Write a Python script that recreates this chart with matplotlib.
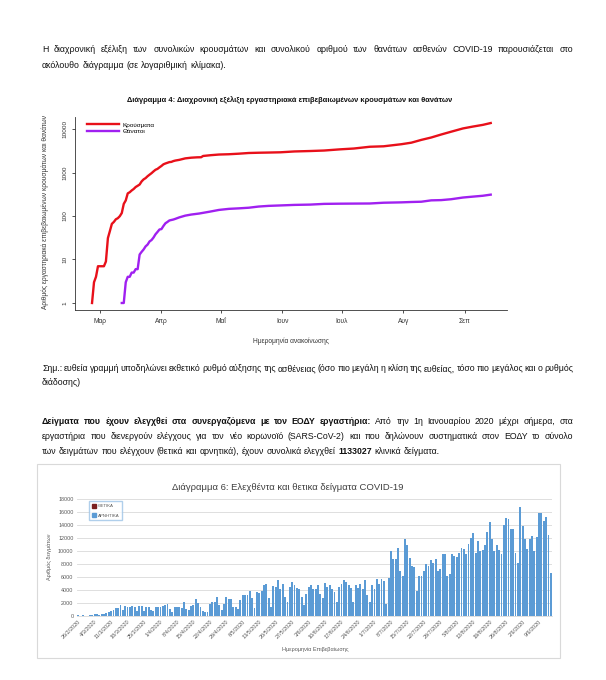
import numpy as np
import pandas as pd
import matplotlib
matplotlib.use('Agg')
import matplotlib.pyplot as plt
from matplotlib.lines import Line2D
from matplotlib.patches import Patch, Rectangle

plt.rcParams['font.family'] = ['Liberation Sans', 'DejaVu Sans']

# ---- Διάγραμμα 4: αθροιστικά κρούσματα / θάνατοι (λογαριθμική κλίμακα) ----
case_dates = ['2020-02-26', '2020-02-27', '2020-02-28', '2020-02-29', '2020-03-02',
              '2020-03-03', '2020-03-04', '2020-03-05', '2020-03-06', '2020-03-07',
              '2020-03-08', '2020-03-09', '2020-03-10', '2020-03-11', '2020-03-12',
              '2020-03-13', '2020-03-14', '2020-03-15', '2020-03-16', '2020-03-17',
              '2020-03-18', '2020-03-19', '2020-03-20', '2020-03-21', '2020-03-22',
              '2020-03-23', '2020-03-24', '2020-03-25', '2020-03-26', '2020-03-27',
              '2020-03-28', '2020-03-29', '2020-03-30', '2020-03-31', '2020-04-01',
              '2020-04-02', '2020-04-03', '2020-04-04', '2020-04-05', '2020-04-06',
              '2020-04-07', '2020-04-08', '2020-04-10', '2020-04-13', '2020-04-16',
              '2020-04-19', '2020-04-21', '2020-04-22', '2020-04-26', '2020-04-30',
              '2020-05-05', '2020-05-10', '2020-05-15', '2020-05-20', '2020-05-25',
              '2020-05-31', '2020-06-07', '2020-06-15', '2020-06-22', '2020-06-30',
              '2020-07-07', '2020-07-15', '2020-07-22', '2020-07-31', '2020-08-05',
              '2020-08-10', '2020-08-15', '2020-08-20', '2020-08-25', '2020-08-31',
              '2020-09-05', '2020-09-10', '2020-09-14']
cases = [1, 3, 4, 7, 7,
         7, 9, 31, 45, 66,
         73, 84, 89, 99, 117,
         190, 228, 331, 352, 387,
         418, 464, 495, 530, 624,
         695, 743, 821, 892, 966,
         1061, 1156, 1212, 1314, 1415,
         1544, 1613, 1673, 1735, 1755,
         1832, 1884, 1955, 2114, 2192,
         2235, 2245, 2401, 2506, 2591,
         2632, 2710, 2810, 2850, 2878,
         2917, 3049, 3121, 3203, 3409,
         3562, 3910, 4007, 4477, 4855,
         5623, 6381, 7472, 8664, 10317,
         11386, 12452, 13730]

death_dates = ['2020-03-12', '2020-03-13', '2020-03-14', '2020-03-15', '2020-03-16',
               '2020-03-17', '2020-03-18', '2020-03-19', '2020-03-20', '2020-03-21',
               '2020-03-22', '2020-03-23', '2020-03-24', '2020-03-25', '2020-03-26',
               '2020-03-27', '2020-03-28', '2020-03-29', '2020-03-30', '2020-03-31',
               '2020-04-01', '2020-04-02', '2020-04-03', '2020-04-04', '2020-04-05',
               '2020-04-06', '2020-04-07', '2020-04-08', '2020-04-10', '2020-04-13',
               '2020-04-16', '2020-04-20', '2020-04-25', '2020-04-30', '2020-05-05',
               '2020-05-10', '2020-05-15', '2020-05-20', '2020-05-25', '2020-05-31',
               '2020-06-07', '2020-06-15', '2020-06-22', '2020-06-30', '2020-07-07',
               '2020-07-15', '2020-07-22', '2020-07-31', '2020-08-05', '2020-08-10',
               '2020-08-15', '2020-08-20', '2020-08-25', '2020-08-31', '2020-09-05',
               '2020-09-10', '2020-09-14']
deaths = [1, 1, 3, 4, 4,
          5, 5, 6, 6, 13,
          15, 17, 20, 22, 26,
          28, 32, 38, 43, 49,
          50, 59, 68, 73, 79,
          81, 83, 86, 93, 102,
          108, 114, 125, 138, 146,
          150, 155, 165, 171, 175,
          180, 183, 190, 192, 193,
          194, 202, 206, 210, 213,
          229, 232, 243, 266, 279,
          292, 310]

month_ticks = ['2020-03-01', '2020-04-01', '2020-05-01', '2020-06-01',
               '2020-07-01', '2020-08-01', '2020-09-01']
month_labels = ['Μαρ', 'Απρ', 'Μαΐ', 'Ιουν', 'Ιουλ', 'Αυγ', 'Σεπ']

# ---- Διάγραμμα 6: ημερήσια δείγματα (26/2 - 14/9) ----
test_start = '2020-02-26'
tests = [100, 50, 80, 60, 50, 100, 150, 250, 300, 200,
         250, 300, 450, 600, 700, 900, 1200, 1300, 1700, 900,
         1550, 1400, 1400, 1500, 1400, 800, 1500, 1550, 800, 1400,
         1400, 900, 800, 1400, 1400, 1400, 1550, 1650, 1800, 1150,
         650, 1400, 1400, 1400, 1250, 2100, 1150, 900, 1550, 1750,
         2600, 2000, 1400, 750, 550, 650, 1900, 2100, 2100, 2900,
         1700, 900, 1900, 2900, 2650, 2600, 1400, 1400, 1050, 2500,
         3300, 3300, 3200, 3900, 2800, 1300, 3700, 3500, 3800, 4700,
         4850, 2700, 1400, 4550, 4450, 5550, 4200, 5000, 2900, 2100,
         4450, 5200, 4700, 4350, 4200, 3000, 1650, 3400, 4450,
         4700, 4200, 4200, 4800, 3400, 2700, 5100, 4400, 4800, 4200,
         3700, 2200, 4400, 4900, 5500, 5200, 4700, 4300, 2200, 4800,
         4300, 4900, 4200, 5500, 3200, 2200, 4800, 4200, 5700, 4900,
         5700, 5400, 1900, 5900, 10000, 8700, 8700, 10500, 7000, 6200,
         11900, 11000, 9000, 7700, 7500, 3900, 6100, 6100, 7000, 8000,
         7700, 8600, 8200, 8700, 7000, 7200, 9600, 9500, 6200, 6500,
         9500, 9200, 9100, 9700, 10500, 10300, 9600, 11100, 12000, 12800,
         9700, 11600, 10000, 10100, 11000, 12900, 14500, 11800, 10000, 11000,
         10100, 9500, 14000, 15100, 15000, 13400, 13400, 9700, 8200, 16700,
         13800, 11800, 10300, 11800, 12300, 10000, 12100, 15800, 15800, 14600,
         15300, 12500, 6600]

W, H = 606, 680
fig = plt.figure(figsize=(W / 100, H / 100), dpi=100)
fig.patch.set_facecolor('white')


def fx(x):
    return x / W


def fy(y):
    return 1 - y / H


def put_words(segments, x0, y, size, x1=None):
    """Λέξεις σε μία γραμμή (y = baseline)· με x1 γίνεται πλήρης στοίχιση."""
    r = fig.canvas.get_renderer()
    arts = []
    for seg, bold in segments:
        for w in seg.split():
            arts.append(fig.text(0, fy(y), w, fontsize=size, va='baseline',
                                 fontweight='bold' if bold else 'normal',
                                 color='#111111'))
    widths = [a.get_window_extent(r).width for a in arts]
    if x1 is None:
        gap = size * 100 / 72 * 0.28
    else:
        gap = (x1 - x0 - sum(widths)) / (len(arts) - 1)
    x = x0
    for a, w in zip(arts, widths):
        a.set_x(fx(x))
        x += w + gap


BODY = 6.3
put_words([('Η διαχρονική εξέλιξη των συνολικών κρουσμάτων και συνολικού αριθμού '
            'των θανάτων ασθενών COVID-19 παρουσιάζεται στο', False)], 42, 52, BODY, 573)
put_words([('ακόλουθο διάγραμμα (σε λογαριθμική κλίμακα).', False)], 42, 68, BODY)

put_words([('Σημ.: ευθεία γραμμή υποδηλώνει εκθετικό ρυθμό αύξησης της ασθένειας '
            '(όσο πιο μεγάλη η κλίση της ευθείας, τόσο πιο μεγάλος και ο ρυθμός', False)],
          42, 371, BODY, 573)
put_words([('διάδοσης)', False)], 42, 385, BODY)

put_words([('Δείγματα που έχουν ελεγχθεί στα συνεργαζόμενα με τον ΕΟΔΥ εργαστήρια:', True),
           ('Από την 1η Ιανουαρίου 2020 μέχρι σήμερα, στα', False)], 42, 424, BODY, 573)
put_words([('εργαστήρια που διενεργούν ελέγχους για τον νέο κορωνοϊό (SARS-CoV-2) και '
            'που δηλώνουν συστηματικά στον ΕΟΔΥ το σύνολο', False)], 42, 439, BODY, 573)
put_words([('των δειγμάτων που ελέγχουν (θετικά και αρνητικά), έχουν συνολικά ελεγχθεί', False),
           ('1133027', True), ('κλινικά δείγματα.', False)], 42, 454, BODY)

# ── Διάγραμμα 4 ─────────────────────────────────────────────────────────
ax1 = fig.add_axes([fx(75), fy(310), (507 - 75) / W, (310 - 117) / H])
ax1.plot(pd.to_datetime(case_dates), cases, color='#e8101a', lw=1.7,
         solid_joinstyle='round')
ax1.plot(pd.to_datetime(death_dates), deaths, color='#a020f0', lw=1.7,
         solid_joinstyle='round')
ax1.set_yscale('log')
ax1.set_ylim(0.69, 18900)
ax1.set_xlim(pd.Timestamp('2020-02-17 10:00'), pd.Timestamp('2020-09-22 05:00'))
ax1.set_yticks([1, 10, 100, 1000, 10000])
ax1.set_yticklabels(['1', '10', '100', '1000', '10000'], rotation=90, va='center',
                    fontsize=4.6)
ax1.minorticks_off()
ax1.set_xticks(pd.to_datetime(month_ticks))
ax1.set_xticklabels(month_labels, fontsize=4.8)
ax1.tick_params(axis='both', length=2.5, width=0.6, color='#333333', labelcolor='#333333')
ax1.tick_params(axis='x', pad=3.5)
ax1.tick_params(axis='y', pad=3.0)
for s in ['top', 'right']:
    ax1.spines[s].set_visible(False)
for s in ['left', 'bottom']:
    ax1.spines[s].set_linewidth(0.6)
    ax1.spines[s].set_color('#333333')
ax1.set_facecolor('none')

fig.text(fx(290), fy(100), 'Διάγραμμα 4: Διαχρονική εξέλιξη εργαστηριακά '
         'επιβεβαιωμένων κρουσμάτων και θανάτων', ha='center', va='center',
         fontsize=5.4, fontweight='bold', color='#111111')
fig.text(fx(291), fy(341), 'Ημερομηνία ανακοίνωσης', ha='center', va='center',
         fontsize=4.8, color='#333333')
fig.text(fx(45), fy(212), 'Αριθμός εργαστηριακά επιβεβαιωμένων κρουσμάτων και θανάτων',
         ha='center', va='center', rotation=90, fontsize=4.8, color='#333333')
leg1 = [Line2D([], [], color='#e8101a', lw=1.7), Line2D([], [], color='#a020f0', lw=1.7)]
ax1.legend(leg1, ['Κρούσματα', 'Θάνατοι'], loc='upper left',
           bbox_to_anchor=(fx(84), fy(119)), bbox_transform=fig.transFigure,
           frameon=False, fontsize=4.6,
           handlelength=5.0, labelspacing=0.15, handletextpad=0.6, borderpad=0)

# ── Διάγραμμα 6 ─────────────────────────────────────────────────────────
fig.add_artist(Rectangle((fx(37), fy(658)), (560 - 37) / W, (658 - 464) / H,
                         transform=fig.transFigure, fill=False,
                         edgecolor='#d9d9d9', lw=0.8))
dates2 = pd.date_range(test_start, periods=len(tests), freq='D')
ax2 = fig.add_axes([fx(77), fy(616), (552 - 77) / W, (616 - 499) / H])
pos = np.arange(len(tests))
ax2.bar(pos, tests, width=0.8, color='#5b9bd5', zorder=2)
ax2.set_xlim(-0.5, len(tests) - 0.5)
ax2.set_ylim(0, 18000)
ax2.set_yticks(np.arange(0, 18001, 2000))
ax2.set_yticklabels([str(v) for v in range(0, 18001, 2000)], fontsize=3.9,
                    color='#595959')
ax2.yaxis.grid(True, color='#d9d9d9', lw=0.6, zorder=0)
tick_idx = pos[::7]
ax2.set_xticks(tick_idx)
ax2.set_xticklabels([f'{d.day}/{d.month}/{d.year}' for d in dates2[::7]],
                    rotation=45, ha='right', va='top', rotation_mode='anchor',
                    fontsize=4.0, color='#595959')
ax2.tick_params(length=0, pad=2.5)
ax2.tick_params(axis='x', pad=2.0)
for s in ['top', 'right', 'left']:
    ax2.spines[s].set_visible(False)
ax2.spines['bottom'].set_color('#d9d9d9')
ax2.spines['bottom'].set_linewidth(0.6)
ax2.set_axisbelow(True)

fig.text(fx(288), fy(487), 'Διάγραμμα 6: Ελεχθέντα και θετικα δείγματα COVID-19',
         ha='center', va='center', fontsize=6.8, color='#404040')
fig.text(fx(49), fy(557), 'Αριθμός δειγμάτων', ha='center', va='center',
         rotation=90, fontsize=4.0, color='#595959')
fig.text(fx(315), fy(650), 'Ημερομηνία Επιβεβαίωσης', ha='center', va='center',
         fontsize=4.0, color='#595959')
leg2 = [Patch(color='#7b1f1f'), Patch(color='#5b9bd5')]
ax2.legend(leg2, ['ΘΕΤΙΚΑ', 'ΑΡΝΗΤΙΚΑ'], loc='upper left',
           bbox_to_anchor=(fx(87), fy(499)), bbox_transform=fig.transFigure,
           fontsize=3.2, frameon=True, fancybox=False, edgecolor='#9dc3e6',
           handlelength=0.9, handleheight=0.9, labelspacing=1.1,
           handletextpad=0.4, borderpad=0.6, labelcolor='#595959')

fig.savefig('out.png', dpi=100, facecolor='white')
